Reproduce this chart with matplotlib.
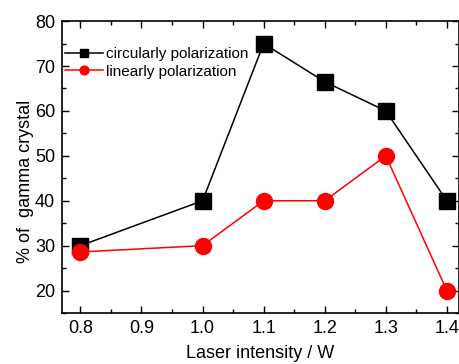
import matplotlib
matplotlib.use("Agg")
import matplotlib.pyplot as plt
from matplotlib.ticker import MultipleLocator

plt.rcParams['font.family'] = ['Liberation Sans', 'DejaVu Sans']

intensity_circ = [0.8, 1.0, 1.1, 1.2, 1.3, 1.4]
circular = [30, 40, 75, 66.5, 60, 40]
intensity_lin = [0.8, 1.0, 1.1, 1.2, 1.3, 1.4]
linear = [28.6, 30, 40, 40, 50, 20]

fig = plt.figure(figsize=(4.6, 3.64), dpi=100)
ax = fig.add_axes([0.135, 0.14, 0.863, 0.802])

ax.plot(intensity_circ, circular, color="black", lw=1.1, marker="s", ms=11.5,
        label="circularly polarization")
ax.plot(intensity_lin, linear, color="red", lw=1.1, marker="o", ms=11.5,
        label="linearly polarization")

ax.set_xlim(0.77, 1.42)
ax.set_ylim(15, 80)
ax.xaxis.set_minor_locator(MultipleLocator(0.05))
ax.yaxis.set_minor_locator(MultipleLocator(5))
ax.set_yticks([20, 30, 40, 50, 60, 70, 80])
ax.set_xticks([0.8, 0.9, 1.0, 1.1, 1.2, 1.3, 1.4])
ax.set_xticklabels(["0.8", "0.9", "1.0", "1.1", "1.2", "1.3", "1.4"])
ax.tick_params(which="both", direction="in", top=True, right=True, labelsize=13)
ax.tick_params(which="major", length=5, width=1, pad=5)
ax.tick_params(which="minor", length=3, width=1)
for s in ax.spines.values():
    s.set_linewidth(1.2)

ax.set_xlabel("Laser intensity / W", fontsize=13)
ax.set_ylabel("% of  gamma crystal", fontsize=13)
ax.xaxis.set_label_coords(0.5, -0.11)
ax.yaxis.set_label_coords(-0.072, 0.45)

ax.legend(loc="upper left", frameon=False, fontsize=11, markerscale=0.55,
          handlelength=2.45, handletextpad=0.25, borderaxespad=0.0,
          labelspacing=0.25, borderpad=0.2, bbox_to_anchor=(0.0, 0.922))

fig.savefig("out.png", dpi=100)
